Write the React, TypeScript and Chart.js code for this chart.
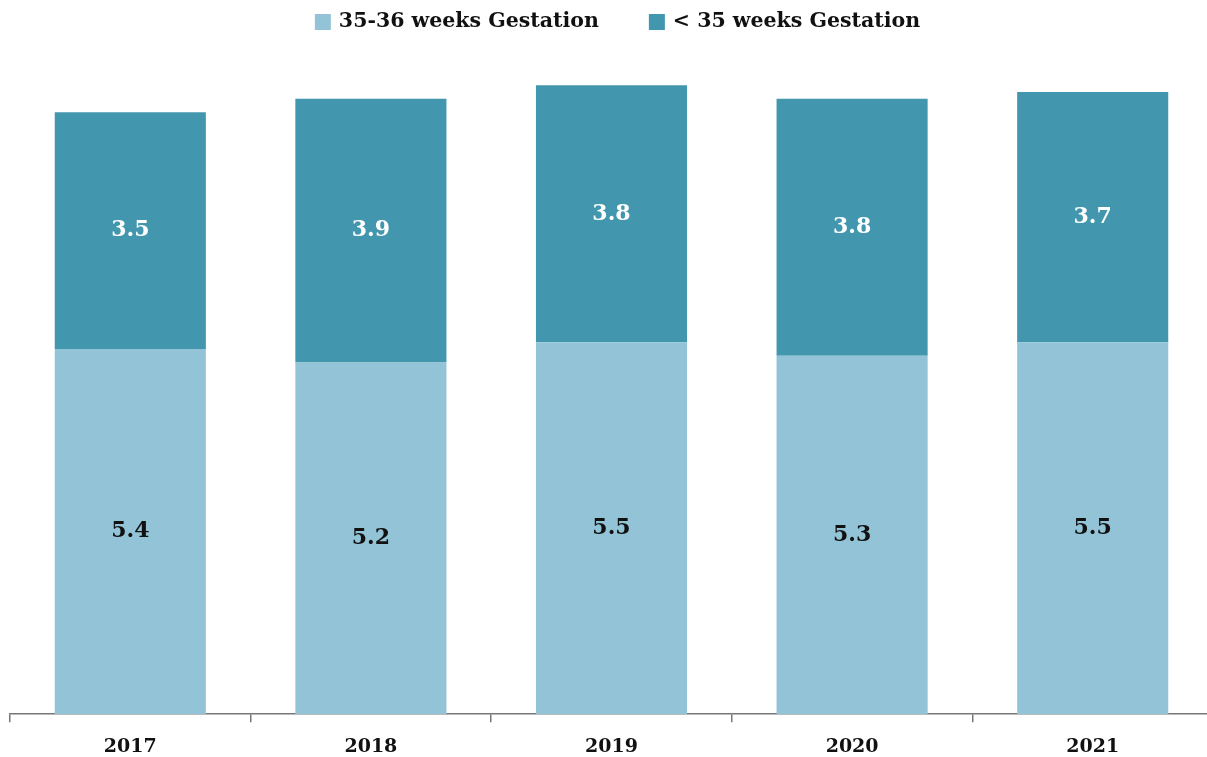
import React, { useEffect, useRef } from "react";
import { Chart, registerables } from "chart.js";

Chart.register(...registerables);

const years = ["2017", "2018", "2019", "2020", "2021"];
const late = [5.4, 5.2, 5.5, 5.3, 5.5]; // 35-36 weeks
const early = [3.5, 3.9, 3.8, 3.8, 3.7]; // < 35 weeks
const seriesNames = ["35-36 weeks Gestation", "< 35 weeks Gestation"];
const lightColor = "#93C3D6";
const darkColor = "#4297AF";

const FONT = "'DejaVu Serif', 'Liberation Serif', serif";

const labelPlugin = {
  id: "segLabels",
  afterDatasetsDraw(chart: any) {
    const ctx = chart.ctx;
    ctx.save();
    ctx.textAlign = "center";
    ctx.textBaseline = "middle";
    ctx.font = `bold 22px ${FONT}`;
    chart.data.datasets.forEach((ds: any, i: number) => {
      const meta = chart.getDatasetMeta(i);
      ctx.fillStyle = i === 0 ? "#111111" : "#ffffff";
      meta.data.forEach((bar: any, j: number) => {
        const cy = (bar.y + bar.base) / 2;
        ctx.fillText(Number(ds.data[j]).toFixed(1), bar.x, cy);
      });
    });
    ctx.restore();
  },
};

const legendPlugin = {
  id: "topLegend",
  afterDraw(chart: any) {
    const ctx = chart.ctx;
    ctx.save();
    ctx.font = `bold 20.5px ${FONT}`;
    ctx.textBaseline = "middle";
    ctx.textAlign = "left";
    const box = 16;
    const gapText = 8;
    const gapItem = 50;
    const items = chart.data.datasets.map((ds: any) => ({
      label: ds.label,
      color: ds.backgroundColor,
      w: ctx.measureText(ds.label).width,
    }));
    const total =
      items.reduce((s: number, it: any) => s + box + gapText + it.w, 0) +
      gapItem * (items.length - 1);
    const cx = (chart.chartArea.left + chart.chartArea.right) / 2 + 6;
    let x = cx - total / 2;
    const cy = 22;
    items.forEach((it: any) => {
      ctx.fillStyle = it.color;
      ctx.fillRect(x, cy - box / 2, box, box);
      x += box + gapText;
      ctx.fillStyle = "#111111";
      ctx.fillText(it.label, x, cy);
      x += it.w + gapItem;
    });
    ctx.restore();
  },
};

export default function App() {
  const ref = useRef<HTMLCanvasElement | null>(null);
  useEffect(() => {
    if (!ref.current) return;
    const chart = new Chart(ref.current, {
      type: "bar",
      data: {
        labels: years,
        datasets: [
          { label: seriesNames[0], data: late, backgroundColor: lightColor },
          { label: seriesNames[1], data: early, backgroundColor: darkColor },
        ],
      },
      options: {
        animation: false,
        responsive: true,
        maintainAspectRatio: false,
        layout: { padding: { left: 10, right: 0, top: 40, bottom: 0 } },
        datasets: { bar: { categoryPercentage: 1, barPercentage: 0.628 } } as any,
        plugins: {
          legend: { display: false },
          tooltip: { enabled: false },
        },
        scales: {
          x: {
            stacked: true,
            grid: {
              offset: true,
              drawOnChartArea: false,
              drawTicks: true,
              tickLength: 8,
              color: "#777777",
              lineWidth: 1.5,
            },
            border: { display: true, color: "#777777", width: 1.5 },
            ticks: {
              color: "#111111",
              padding: 13,
              font: { family: FONT, size: 19, weight: "bold" },
            },
          },
          y: {
            stacked: true,
            display: false,
            min: 0,
            max: 9.97,
          },
        },
      },
      plugins: [labelPlugin, legendPlugin],
    });
    return () => chart.destroy();
  }, []);
  return (
    <div style={{ position: "fixed", left: 0, top: 0, width: 1207, height: 757, overflow: "hidden", background: "#fff" }}>
      <div style={{ position: "relative", width: 1213, height: 771 }}>
        <canvas ref={ref} />
      </div>
    </div>
  );
}
